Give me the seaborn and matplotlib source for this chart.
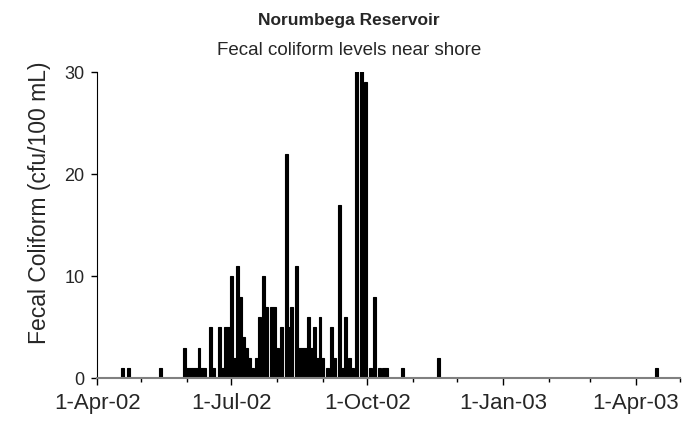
import pandas as pd
import numpy as np
import matplotlib
matplotlib.use("Agg")
import matplotlib.pyplot as plt
import matplotlib.dates as mdates
import seaborn as sns

dates = [
    "2002-04-18", "2002-04-22", "2002-05-14", "2002-05-30", "2002-06-01",
    "2002-06-03", "2002-06-05", "2002-06-07", "2002-06-09", "2002-06-11",
    "2002-06-13", "2002-06-17", "2002-06-19", "2002-06-23", "2002-06-25",
    "2002-06-27", "2002-06-29", "2002-07-01", "2002-07-03", "2002-07-05",
    "2002-07-07", "2002-07-09", "2002-07-11", "2002-07-13", "2002-07-15",
    "2002-07-18", "2002-07-20", "2002-07-23", "2002-07-25", "2002-07-28",
    "2002-07-30", "2002-08-01", "2002-08-04", "2002-08-07", "2002-08-09",
    "2002-08-11", "2002-08-14", "2002-08-16", "2002-08-18", "2002-08-20",
    "2002-08-22", "2002-08-24", "2002-08-26", "2002-08-28", "2002-08-30",
    "2002-09-01", "2002-09-04", "2002-09-07", "2002-09-09", "2002-09-12",
    "2002-09-14", "2002-09-16", "2002-09-19", "2002-09-21", "2002-09-24",
    "2002-09-27", "2002-09-30", "2002-10-03", "2002-10-06", "2002-10-09",
    "2002-10-12", "2002-10-14", "2002-10-25", "2002-11-18", "2003-04-15",
]
coliform = [
    1, 1, 1, 3, 1,
    1, 1, 1, 3, 1,
    1, 5, 1, 5, 1,
    5, 5, 10, 2, 11,
    8, 4, 3, 2, 1,
    2, 6, 10, 7, 7,
    7, 3, 5, 22, 5,
    7, 11, 3, 3, 3,
    6, 3, 5, 2, 6,
    2, 1, 5, 2, 17,
    1, 6, 2, 1, 35,
    33, 29, 1, 8, 1,
    1, 1, 1, 2, 1,
]

df = pd.DataFrame({"Date": pd.to_datetime(dates), "Fecal Coliform": coliform})
df["num"] = mdates.date2num(df["Date"])

sns.set_style("white")
plt.rcParams["font.family"] = ["Liberation Sans", "DejaVu Sans"]

fig = plt.figure(figsize=(6.94, 4.24), dpi=100)
ax = fig.add_axes([0.140, 0.108, 0.840, 0.722])

sns.barplot(
    data=df,
    x="num",
    y="Fecal Coliform",
    native_scale=True,
    width=1.0,
    color="black",
    saturation=1,
    edgecolor="black",
    linewidth=0.8,
    errorbar=None,
    ax=ax,
)

ax.set_xlim(mdates.date2num(pd.Timestamp("2002-04-01")),
            mdates.date2num(pd.Timestamp("2003-05-01")))
ax.set_ylim(0, 30)
ax.set_yticks([0, 10, 20, 30])

ax.xaxis.set_major_locator(mdates.MonthLocator(bymonth=[1, 4, 7, 10]))
ax.xaxis.set_major_formatter(mdates.DateFormatter("%-d-%b-%y"))
ax.xaxis.set_minor_locator(mdates.MonthLocator())

ax.tick_params(axis="x", which="major", direction="out", length=5, width=1,
               color="black", labelsize=16, pad=6, bottom=True)
ax.tick_params(axis="x", which="minor", direction="out", length=3, width=1,
               color="black", bottom=True)
ax.tick_params(axis="y", direction="out", length=4, width=1, color="black",
               labelsize=13, left=True, pad=5)

for s in ["top", "right"]:
    ax.spines[s].set_visible(False)
ax.spines["left"].set_color("black")
ax.spines["bottom"].set_color("#808080")
ax.spines["bottom"].set_linewidth(1.5)

ax.set_xlabel("")
ax.set_ylabel("Fecal Coliform (cfu/100 mL)", fontsize=16.5)
ax.yaxis.set_label_coords(-0.080, 0.572)

fig.text(0.503, 0.952, "Norumbega Reservoir", ha="center", va="center",
         fontsize=12.5, fontweight="bold")
fig.text(0.503, 0.880, "Fecal coliform levels near shore", ha="center",
         va="center", fontsize=13.5)

fig.savefig("out.png", dpi=100)
